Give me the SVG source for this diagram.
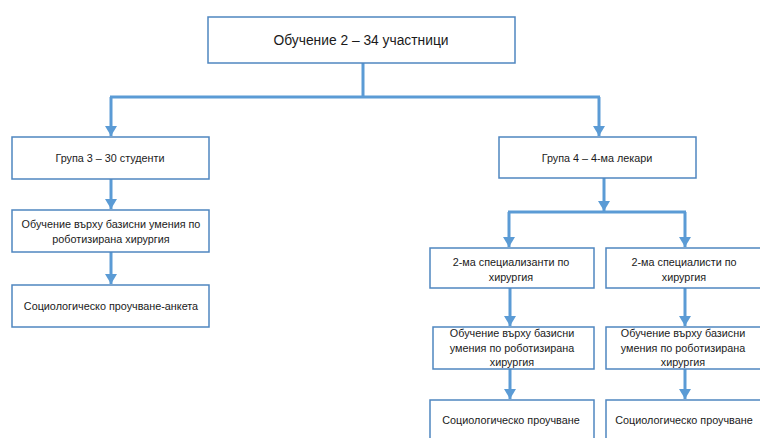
<svg xmlns="http://www.w3.org/2000/svg" width="760" height="438" viewBox="0 0 760 438">
<defs>
<style>
.box{fill:#ffffff;stroke:#4f86c0;stroke-width:1.5}
.t{font-family:"Liberation Sans",Arial,sans-serif;font-size:10.8px;fill:#1a1a1a;text-anchor:middle}
.tl{font-family:"Liberation Sans",Arial,sans-serif;font-size:13.8px;fill:#1a1a1a;text-anchor:middle}
.c{fill:none;stroke:#5b9bd5;stroke-width:3}
</style>
<marker id="ah" markerUnits="userSpaceOnUse" markerWidth="12" markerHeight="12" refX="10" refY="6" orient="auto">
<path d="M0,0 L10,6 L0,12 z" fill="#5b9bd5"/>
</marker>
</defs>
<rect width="760" height="438" fill="#ffffff"/>
<g id="connectors">
<path class="c" d="M363,63 V97 M110,97 H600"/>
<path class="c" d="M111,97 V136" marker-end="url(#ah)"/>
<path class="c" d="M599,97 V136" marker-end="url(#ah)"/>
<path class="c" d="M111,179 V209" marker-end="url(#ah)"/>
<path class="c" d="M111,252 V284" marker-end="url(#ah)"/>
<path class="c" d="M604,178 V211" marker-end="url(#ah)"/>
<path class="c" d="M508,212 H686"/>
<path class="c" d="M509,212 V247" marker-end="url(#ah)"/>
<path class="c" d="M685,212 V247" marker-end="url(#ah)"/>
<path class="c" d="M510,288 V326" marker-end="url(#ah)"/>
<path class="c" d="M685,288 V326" marker-end="url(#ah)"/>
<path class="c" d="M510,369 V399" marker-end="url(#ah)"/>
<path class="c" d="M685,369 V399" marker-end="url(#ah)"/>
</g>
<g id="n-top"><rect class="box" x="208" y="17" width="307" height="46"/><text class="tl" x="361" y="45">Обучение 2 – 34 участници</text></g>
<g id="n-g3"><rect class="box" x="12" y="137" width="197" height="42"/><text class="t" x="110" y="162">Група 3 – 30 студенти</text></g>
<g id="n-l2"><rect class="box" x="12" y="210" width="197" height="42"/><text class="t" x="111" y="228">Обучение върху базисни умения по</text><text class="t" x="111" y="243">роботизирана хирургия</text></g>
<g id="n-l3"><rect class="box" x="12" y="285" width="197" height="42"/><text class="t" x="111" y="310">Социологическо проучване-анкета</text></g>
<g id="n-g4"><rect class="box" x="499" y="137" width="197" height="41"/><text class="t" x="597" y="162">Група 4 – 4-ма лекари</text></g>
<g id="n-r1l"><rect class="box" x="430" y="248" width="164" height="40"/><text class="t" x="511" y="266">2-ма специализанти по</text><text class="t" x="511" y="281">хирургия</text></g>
<g id="n-r1r"><rect class="box" x="606" y="248" width="156" height="40"/><text class="t" x="684" y="266">2-ма специалисти по</text><text class="t" x="684" y="281">хирургия</text></g>
<g id="n-r2l"><rect class="box" x="433" y="327" width="161" height="42"/><text class="t" x="512" y="337">Обучение върху базисни</text><text class="t" x="512" y="352">умения по роботизирана</text><text class="t" x="512" y="366">хирургия</text></g>
<g id="n-r2r"><rect class="box" x="606" y="327" width="156" height="42"/><text class="t" x="683" y="337">Обучение върху базисни</text><text class="t" x="683" y="352">умения по роботизирана</text><text class="t" x="683" y="366">хирургия</text></g>
<g id="n-r3l"><rect class="box" x="430" y="400" width="164" height="45"/><text class="t" x="511" y="424">Социологическо проучване</text></g>
<g id="n-r3r"><rect class="box" x="606" y="400" width="156" height="45"/><text class="t" x="684" y="424">Социологическо проучване</text></g>
</svg>
